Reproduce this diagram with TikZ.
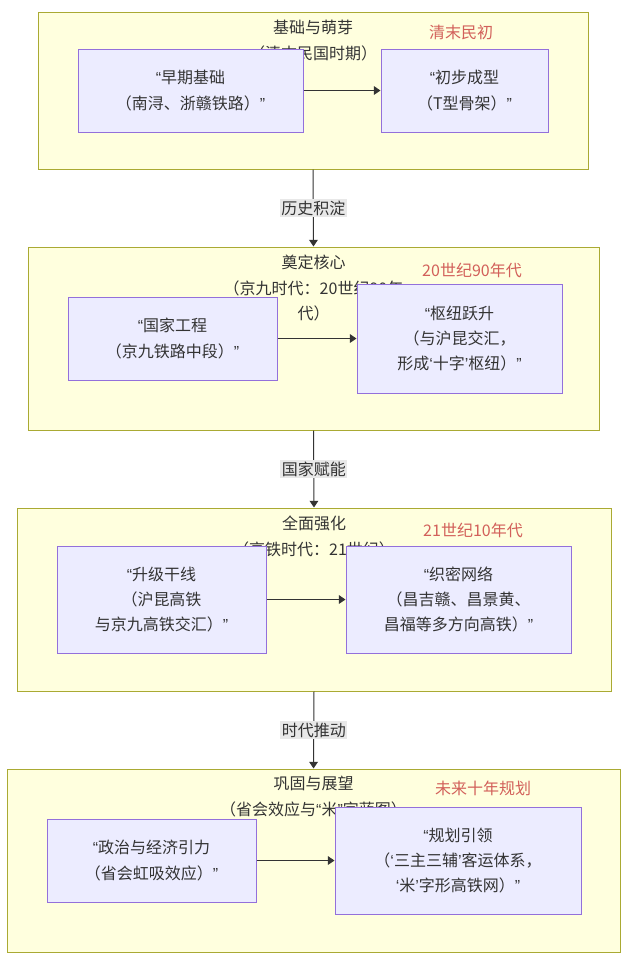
\documentclass[tikz,border=0pt]{standalone}
\usepackage{fontspec}
\setmainfont{Noto Sans CJK SC}
\newfontfamily\quotefont{Liberation Sans}
\usepackage{xcolor}
\usetikzlibrary{positioning,arrows.meta}
\definecolor{zonefill}{HTML}{FFFFDE}
\definecolor{zoneline}{HTML}{AAAA33}
\definecolor{cardfill}{HTML}{ECECFF}
\definecolor{cardline}{HTML}{9370DB}
\definecolor{ink}{HTML}{333333}
\definecolor{erared}{HTML}{D2605A}
\definecolor{tagfill}{HTML}{E8E8E8}
\newcommand{\qopen}{{\quotefont “}}
\newcommand{\qclose}{{\quotefont ”}}
\newcommand{\sqopen}{{\quotefont ‘}}
\newcommand{\sqclose}{{\quotefont ’}}

\tikzset{
  zone/.style={draw=zoneline,fill=zonefill,line width=0.75pt,inner sep=0pt},
  zonetitle/.style={anchor=north,align=center,inner sep=0pt,text=ink},
  era/.style={text=erared,inner sep=0pt},
  card/.style={draw=cardline,fill=cardfill,line width=0.75pt,align=center,text=ink,inner sep=2pt},
  flow/.style={draw=ink,line width=0.75pt,-{Triangle[length=5pt,width=6.5pt]}},
  tag/.style={fill=tagfill,text=ink,inner sep=1pt}
}

\begin{document}
\begin{tikzpicture}[x=0.75pt,y=-0.75pt,font=\fontsize{12pt}{19pt}\selectfont]
        \useasboundingbox[fill=white] (0,0) rectangle (632,954);
        % stage frames
        \node[zone,minimum width=412.5pt,minimum height=117.75pt] (z1) at (313,90.5) {};
        \node[zone,minimum width=428.25pt,minimum height=137.25pt] (z2) at (313.5,338.5) {};
        \node[zone,minimum width=445.5pt,minimum height=137.25pt] (z3) at (314,599.5) {};
        \node[zone,minimum width=459.75pt,minimum height=137.25pt] (z4) at (313.5,860.5) {};
        \node[zonetitle] (t1) at (313,20) {基础与萌芽\\（清末民国时期）};
        \node[zonetitle] (t2) at (313.5,255) {奠定核心\\（京九时代：20世纪90年\\代）};
        \node[zonetitle] (t3) at (314,516) {全面强化\\（高铁时代：21世纪）};
        \node[zonetitle] (t4) at (313.5,776) {巩固与展望\\（省会效应与\qopen 米\qclose 字蓝图）};
        \node[era] (e1) at (461,32) {清末民初};
        \node[era] (e2) at (472,270) {20世纪90年代};
        \node[era] (e3) at (473,530) {21世纪10年代};
        \node[era] (e4) at (483,788) {未来十年规划};
        % cards
        \node[card,minimum width=168.75pt,minimum height=62.25pt] (a1) at (190.5,90.5) {\qopen 早期基础\\（南浔、浙赣铁路）\qclose};
        \node[card,minimum width=125.25pt,minimum height=62.25pt] (a2) at (464.5,90.5) {\qopen 初步成型\\（T型骨架）\qclose};
        \node[card,minimum width=156.75pt,minimum height=62.25pt] (b1) at (172.5,338.5) {\qopen 国家工程\\（京九铁路中段）\qclose};
        \node[card,minimum width=153.75pt,minimum height=81.75pt] (b2) at (459.5,338.5) {\qopen 枢纽跃升\\（与沪昆交汇，\\形成\sqopen 十字\sqclose 枢纽）\qclose};
        \node[card,minimum width=156.75pt,minimum height=80.25pt] (c1) at (161.5,599.5) {\qopen 升级干线\\（沪昆高铁\\与京九高铁交汇）\qclose};
        \node[card,minimum width=168.75pt,minimum height=80.25pt] (c2) at (458.5,599.5) {\qopen 织密网络\\（昌吉赣、昌景黄、\\昌福等多方向高铁）\qclose};
        \node[card,minimum width=156.75pt,minimum height=62.25pt] (d1) at (151.5,860.5) {\qopen 政治与经济引力\\（省会虹吸效应）\qclose};
        \node[card,minimum width=184.5pt,minimum height=80.25pt] (d2) at (458,860.5) {\qopen 规划引领\\（\sqopen 三主三辅\sqclose 客运体系，\\\sqopen 米\sqclose 字形高铁网）\qclose};
        \draw[flow] (a1) -- (a2);
        \draw[flow] (b1) -- (b2);
        \draw[flow] (c1) -- (c2);
        \draw[flow] (d1) -- (d2);
        % links between stages
        \draw[flow] (z1.south) -- node[tag] (l1) {历史积淀} (z2.north);
        \draw[flow] (z2.south) -- node[tag] (l2) {国家赋能} (z3.north);
        \draw[flow] (z3.south) -- node[tag] (l3) {时代推动} (z4.north);
      \end{tikzpicture}
\end{document}
